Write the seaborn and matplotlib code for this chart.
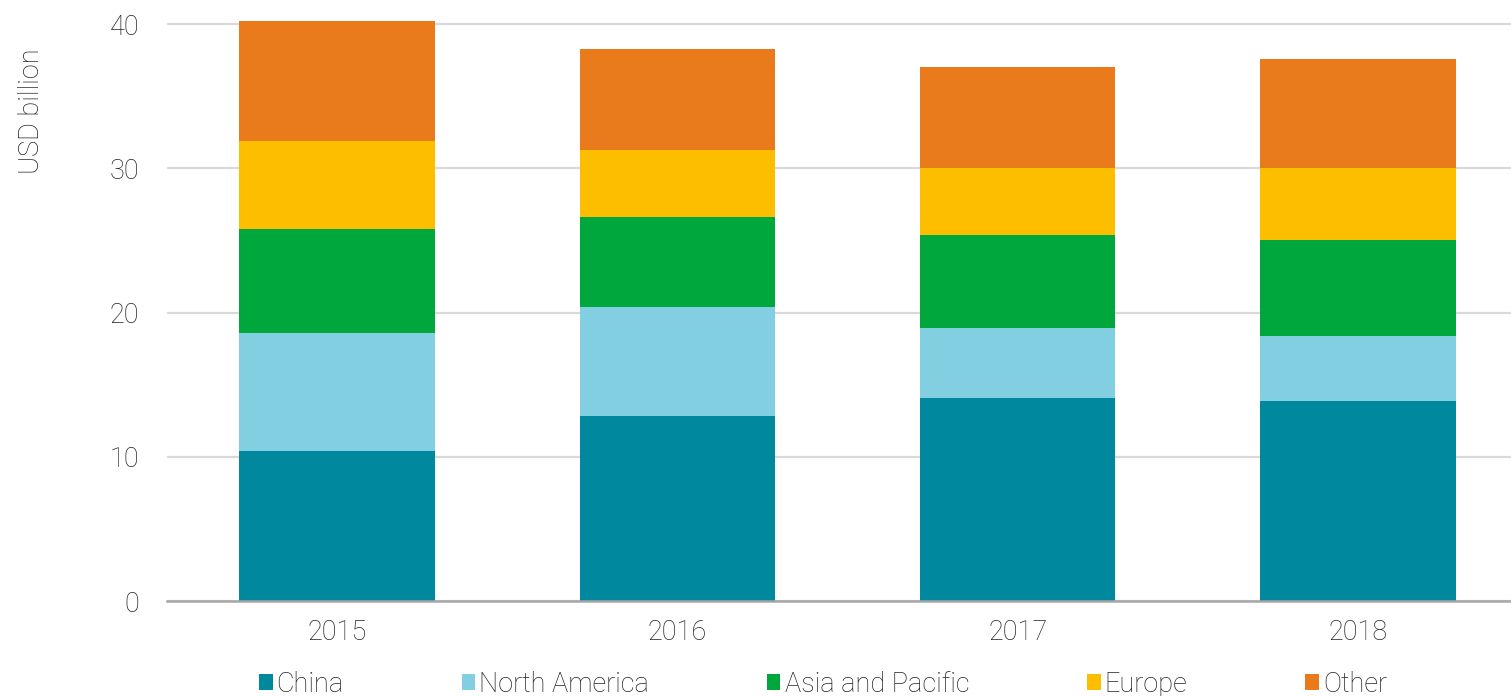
import matplotlib
matplotlib.use("Agg")
import matplotlib.pyplot as plt
import seaborn as sns
import numpy as np
import pandas as pd
from matplotlib.patches import Patch

years = ["2015", "2016", "2017", "2018"]
series_names = ["China", "North America", "Asia and Pacific", "Europe", "Other"]
china = [10.4, 12.8, 14.1, 13.9]
north_america = [8.2, 7.6, 4.85, 4.5]
asia_pacific = [7.2, 6.25, 6.4, 6.6]
europe = [6.1, 4.65, 4.7, 5.05]
other = [8.3, 7.0, 7.0, 7.55]
colors = ["#00889E", "#82CFE2", "#00A73D", "#FDBE00", "#E97B1C"]

sns.set_theme(style="white")
plt.rcParams["font.family"] = ["Roboto", "DejaVu Sans"]
plt.rcParams["font.weight"] = "light"

FS = 19.5

fig = plt.figure(figsize=(15.11, 6.96), dpi=100)
ax = fig.add_axes([167 / 1511, 95 / 696, 1 - 167 / 1511, (601 - 18) / 696])

bottom = np.zeros(len(years))
for name, vals, c in zip(series_names, [china, north_america, asia_pacific, europe, other], colors):
    df = pd.DataFrame({"year": years, "value": vals})
    sns.barplot(data=df, x="year", y="value", bottom=bottom, color=c, width=0.574,
                saturation=1, ax=ax, linewidth=0, errorbar=None)
    bottom = bottom + np.array(vals)

ax.set_ylim(0, 40.42)
ax.set_xlim(-0.5, 3.45)
ax.set_yticks([0, 10, 20, 30, 40])
ax.yaxis.grid(True, color="#d9d9d9", linewidth=1.6)
ax.set_axisbelow(True)
for s in ["top", "right", "left"]:
    ax.spines[s].set_visible(False)
ax.spines["bottom"].set_color("#a6a6a6")
ax.spines["bottom"].set_linewidth(1.8)
ax.tick_params(axis="both", length=0, labelsize=FS, labelcolor="#222222")
ax.tick_params(axis="y", pad=20)
ax.tick_params(axis="x", pad=13)
ax.set_xlabel("")
ax.set_ylabel("USD billion", fontsize=FS, color="#222222", fontweight="light")
ax.yaxis.set_label_coords(-0.091, 0.84)

handles = [Patch(facecolor=c, edgecolor="none") for c in colors]
fig.legend(handles, series_names, loc="center left", bbox_to_anchor=(259 / 1511, 1 - 684 / 696),
           ncol=5, frameon=False, fontsize=FS, handlelength=0.5, handleheight=0.5,
           handletextpad=0.15, columnspacing=4.35, borderpad=0, borderaxespad=0,
           labelcolor="#222222")

fig.savefig("out.png", dpi=100)
